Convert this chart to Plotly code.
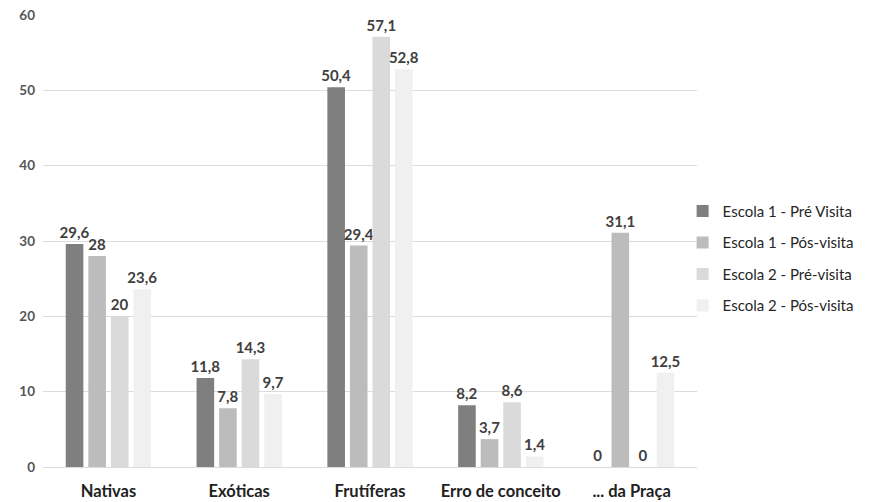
import plotly.graph_objects as go

categories = ["Nativas", "Exóticas", "Frutíferas", "Erro de conceito", "... da Praça"]
series_names = [
    "Escola 1 - Pré Visita",
    "Escola 1 - Pós-visita",
    "Escola 2 - Pré-visita",
    "Escola 2 - Pós-visita",
]
escola1_pre = [29.6, 11.8, 50.4, 8.2, 0]
escola1_pos = [28, 7.8, 29.4, 3.7, 31.1]
escola2_pre = [20, 14.3, 57.1, 8.6, 0]
escola2_pos = [23.6, 9.7, 52.8, 1.4, 12.5]

colors = ["#7f7f7f", "#bcbcbc", "#dadada", "#f0f0f0"]


def fmt(v):
    s = f"{v:g}"
    return s.replace(".", ",")


fig = go.Figure()
for i, (name, vals) in enumerate(zip(series_names, [escola1_pre, escola1_pos, escola2_pre, escola2_pos])):
    fig.add_trace(go.Bar(
        x=categories,
        y=vals,
        name=name,
        marker=dict(color=colors[i], line=dict(width=0)),
        text=[fmt(v) for v in vals],
        textposition="outside",
        textfont=dict(family="Lato", size=15, color="#404040", weight="bold"),
        cliponaxis=False,
        legendgroup=f"g{i}",
    ))

fig.update_layout(
    width=869,
    height=502,
    margin=dict(l=43, r=172, t=15, b=35, autoexpand=False),
    plot_bgcolor="white",
    paper_bgcolor="white",
    barmode="group",
    bargap=0.31,
    bargroupgap=0.22,
    uniformtext=dict(minsize=15, mode="show"),
    showlegend=True,
    legend=dict(
        x=0.978,
        y=0.462,
        xanchor="left",
        yanchor="middle",
        bgcolor="rgba(0,0,0,0)",
        font=dict(family="Lato", size=15, color="#262626"),
        tracegroupgap=9,
        itemwidth=30,
    ),
    xaxis=dict(
        showgrid=False,
        showline=False,
        ticks="",
        ticklabelstandoff=12,
        tickfont=dict(family="Lato", size=16.5, color="#222222", weight="bold"),
    ),
    yaxis=dict(
        range=[0, 60],
        dtick=10,
        showgrid=True,
        gridcolor="#dcdcdc",
        gridwidth=1,
        zeroline=True,
        zerolinecolor="#dcdcdc",
        zerolinewidth=1,
        showline=False,
        ticks="",
        ticklabelstandoff=7,
        tickfont=dict(family="Lato", size=13.5, color="#555555", weight="bold"),
    ),
)

fig.write_html("out.html")
